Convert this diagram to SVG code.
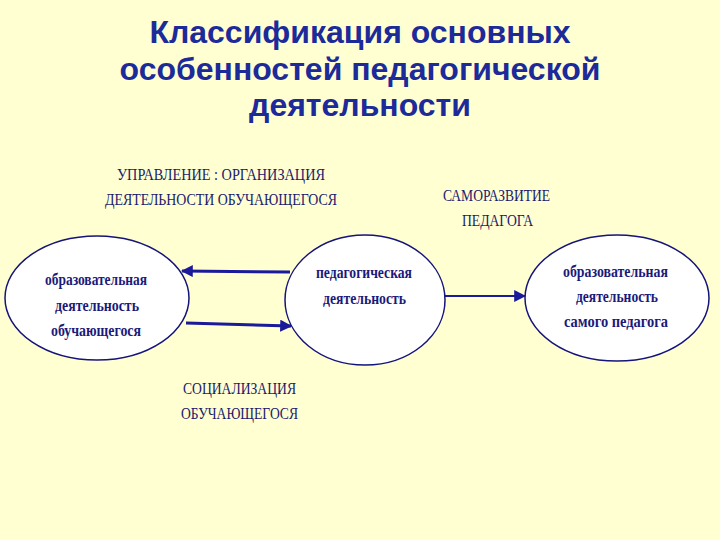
<svg xmlns="http://www.w3.org/2000/svg" width="720" height="540" viewBox="0 0 720 540">
<defs>
<marker id="ah" viewBox="0 0 10 10" refX="9" refY="5" markerWidth="4" markerHeight="4" orient="auto" markerUnits="strokeWidth">
<path d="M0,0 L10,5 L0,10 z" fill="#1a1a9a"/>
</marker>
<marker id="ah2" viewBox="0 0 10 10" refX="9" refY="5" markerWidth="6" markerHeight="6" orient="auto" markerUnits="strokeWidth">
<path d="M0,0 L10,5 L0,10 z" fill="#1a1a9a"/>
</marker>
<style>
.title{font-family:"Liberation Sans",Arial,sans-serif;font-weight:bold;font-size:32px;fill:#1c2a9a;text-anchor:middle}
.lbl{font-family:"Liberation Serif","Times New Roman",serif;font-size:17px;fill:#1a1a6e}
.nt{font-family:"Liberation Serif","Times New Roman",serif;font-weight:bold;font-size:16px;fill:#1a1a7a}
.node{fill:#ffffff;stroke:#14147a;stroke-width:1.5}
.conn{stroke:#1a1a9a;fill:none}
</style>
</defs>
<rect width="720" height="540" fill="#ffffd2"/>
<g id="title">
<text class="title" x="360" y="43">Классификация основных</text>
<text class="title" x="360" y="80">особенностей педагогической</text>
<text class="title" x="360" y="116">деятельности</text>
</g>
<g id="labels" xml:space="preserve">
<text class="lbl" x="117" y="180" textLength="208" lengthAdjust="spacingAndGlyphs">УПРАВЛЕНИЕ :  ОРГАНИЗАЦИЯ</text>
<text class="lbl" x="105" y="205" textLength="232" lengthAdjust="spacingAndGlyphs">ДЕЯТЕЛЬНОСТИ  ОБУЧАЮЩЕГОСЯ</text>
<text class="lbl" x="443" y="201" textLength="107" lengthAdjust="spacingAndGlyphs">САМОРАЗВИТИЕ</text>
<text class="lbl" x="462" y="226" textLength="71" lengthAdjust="spacingAndGlyphs">ПЕДАГОГА</text>
<text class="lbl" x="183" y="394" textLength="113" lengthAdjust="spacingAndGlyphs">СОЦИАЛИЗАЦИЯ</text>
<text class="lbl" x="181" y="419" textLength="117" lengthAdjust="spacingAndGlyphs">ОБУЧАЮЩЕГОСЯ</text>
</g>
<g id="connectors">
<line class="conn" x1="290" y1="272" x2="182" y2="271" stroke-width="3" marker-end="url(#ah)"/>
<line class="conn" x1="186" y1="323" x2="291" y2="326" stroke-width="3" marker-end="url(#ah)"/>
<line class="conn" x1="445" y1="296" x2="525" y2="296" stroke-width="2" marker-end="url(#ah2)"/>
</g>
<g id="node-left">
<ellipse class="node" cx="97" cy="298" rx="92" ry="62"/>
<text class="nt" x="45" y="285" textLength="102" lengthAdjust="spacingAndGlyphs">образовательная</text>
<text class="nt" x="55" y="311" textLength="84" lengthAdjust="spacingAndGlyphs">деятельность</text>
<text class="nt" x="51" y="336" textLength="90" lengthAdjust="spacingAndGlyphs">обучающегося</text>
</g>
<g id="node-center">
<ellipse class="node" cx="365" cy="300" rx="80" ry="65"/>
<text class="nt" x="316" y="278" textLength="96" lengthAdjust="spacingAndGlyphs">педагогическая</text>
<text class="nt" x="323" y="304" textLength="83" lengthAdjust="spacingAndGlyphs">деятельность</text>
</g>
<g id="node-right" xml:space="preserve">
<ellipse class="node" cx="617" cy="298" rx="92" ry="63"/>
<text class="nt" x="563" y="277" textLength="105" lengthAdjust="spacingAndGlyphs">образовательная</text>
<text class="nt" x="576" y="302" textLength="82" lengthAdjust="spacingAndGlyphs">деятельность</text>
<text class="nt" x="564" y="327" textLength="104" lengthAdjust="spacingAndGlyphs">самого   педагога</text>
</g>
</svg>
